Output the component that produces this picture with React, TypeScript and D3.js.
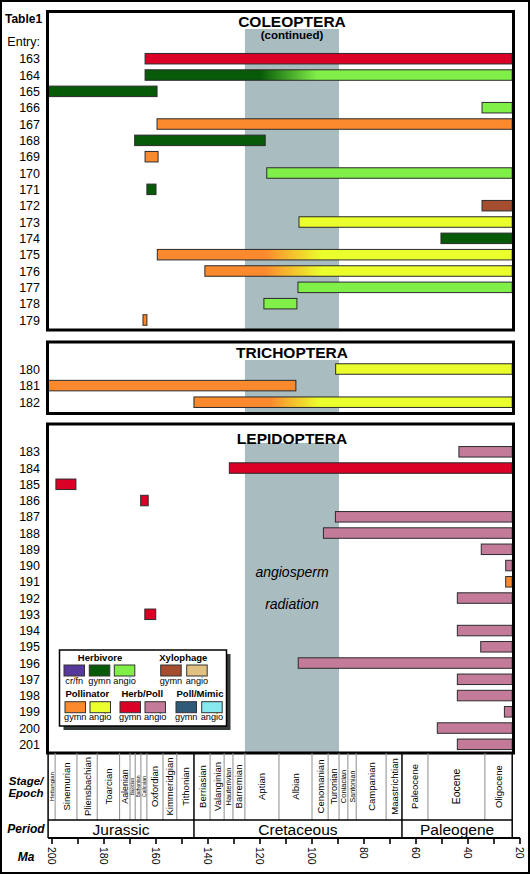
import React from 'react';
import * as d3 from 'd3';

// ---------- DATA ----------
// Coleoptera (continued)
const coleEntries = [163, 164, 165, 166, 167, 168, 169, 170, 171, 172, 173, 174, 175, 176, 177, 178, 179];
const coleStart = [164.2, 164.2, 201.5, 34.6, 159.6, 168.2, 164.2, 117.4, 163.5, 34.6, 105.0, 50.4, 159.5, 141.2, 105.4, 118.5, 165.0];
const coleEnd = [23, 23, 159.6, 23, 23, 118.0, 159.2, 23, 160.0, 23, 23, 23, 23, 23, 23, 105.8, 163.5];
const coleType = ['hpG', 'herbG>herbA', 'herbG', 'herbA', 'pollG', 'herbG', 'pollG', 'herbA', 'herbG', 'xyloG', 'pollA', 'herbG', 'pollG>pollA', 'pollG>pollA', 'herbA', 'herbA', 'pollG'];
const coleFadeFrom = [null, 120, null, null, null, null, null, null, null, null, null, null, 118, 118, null, null, null];
const coleFadeTo = [null, 98, null, null, null, null, null, null, null, null, null, null, 96, 96, null, null, null];

// Trichoptera
const trichEntries = [180, 181, 182];
const trichStart = [90.9, 201.5, 145.4];
const trichEnd = [23, 106.2, 23];
const trichType = ['pollA', 'pollG', 'pollG>pollA'];
const trichFadeFrom = [null, null, 116];
const trichFadeTo = [null, null, 97];

// Lepidoptera
const lepEntries = [183, 184, 185, 186, 187, 188, 189, 190, 191, 192, 193, 194, 195, 196, 197, 198, 199, 200, 201];
const lepStart = [43.5, 131.8, 198.5, 165.9, 91.0, 95.6, 34.9, 25.5, 25.5, 44.1, 164.3, 44.1, 35.1, 105.3, 44.1, 44.1, 26.0, 51.8, 44.1];
const lepEnd = [23, 23, 190.8, 163.0, 23, 23, 23, 23, 23, 23, 160.1, 23, 23, 23, 23, 23, 23, 23, 23];
const lepType = ['hpA', 'hpG', 'hpG', 'hpG', 'hpA', 'hpA', 'hpA', 'hpA', 'pollG', 'hpA', 'hpG', 'hpA', 'hpA', 'hpA', 'hpA', 'hpA', 'hpA', 'hpA', 'hpA'];
const lepFadeFrom = lepEntries.map(() => null);
const lepFadeTo = lepEntries.map(() => null);

// Angiosperm radiation interval (Ma)
const radiation = [125.8, 89.6];

// Geologic time scale
const stageNames = ['Hettangian', 'Sinemurian', 'Pliensbachian', 'Toarcian', 'Aalenian', 'Bajocian', 'Bathonian', 'Callovian', 'Oxfordian', 'Kimmeridgian', 'Tithonian', 'Berriasian', 'Valanginian', 'Hauterivian', 'Barremian', 'Aptian', 'Albian', 'Cenomanian', 'Turonian', 'Coniacian', 'Santonian', 'Campanian', 'Maastrichtian', 'Paleocene', 'Eocene', 'Oligocene'];
const stageBounds = [201.5, 198.8, 190.4, 182.6, 174.0, 170.0, 168.0, 165.8, 163.5, 157.3, 152.0, 145.4, 139.2, 133.8, 130.4, 125.8, 112.7, 100.0, 93.8, 89.6, 86.2, 83.0, 71.5, 65.4, 55.4, 33.5, 23.0];
const periodNames = ['Jurassic', 'Cretaceous', 'Paleogene'];
const periodBounds = [201.5, 145.4, 65.4, 23.0];
const maTicks = [200, 190, 180, 170, 160, 150, 140, 130, 120, 110, 100, 90, 80, 70, 60, 50, 40, 30, 20];
const maLabels = [200, 180, 160, 140, 120, 100, 80, 60, 40, 20];

// Legend
const legendHeadings = ['Herbivore', 'Xylophage', 'Pollinator', 'Herb/Poll', 'Poll/Mimic'];
const legendKeys = ['crfn', 'herbG', 'herbA', 'xyloG', 'xyloA', 'pollG', 'pollA', 'hpG', 'hpA', 'mimG', 'mimA'];
const legendLabels = ['cr/fn', 'gymn', 'angio', 'gymn', 'angio', 'gymn', 'angio', 'gymn', 'angio', 'gymn', 'angio'];

// ---------- STYLE / LAYOUT ----------
const COLORS: Record<string, string> = {
  crfn: '#56399a',
  herbG: '#075a07',
  herbA: '#80ef48',
  xyloG: '#a44d2f',
  xyloA: '#e2c282',
  pollG: '#fb8a2f',
  pollA: '#eaff2b',
  hpG: '#da0026',
  hpA: '#c37b99',
  mimG: '#2f5a78',
  mimA: '#88e8ef',
};
const SHADE = '#a9bcc0';
const FONT = "'Liberation Sans', Arial, Helvetica, sans-serif";
const W = 530, H = 874;
const PL = 47.5, PR = 513.5;
const x = d3.scaleLinear().domain([200, 20]).range([52, 520]);

const panels = [
  { id: 'cole', title: 'COLEOPTERA', sub: '(continued)', top: 11.5, bottom: 330, shadeTop: 29, titleY: 27, y0: 58.7, y1: 320,
    entries: coleEntries, start: coleStart, end: coleEnd, type: coleType, ff: coleFadeFrom, ft: coleFadeTo },
  { id: 'trich', title: 'TRICHOPTERA', sub: '', top: 342, bottom: 413.5, shadeTop: 360, titleY: 358.3, y0: 369, y1: 402.2,
    entries: trichEntries, start: trichStart, end: trichEnd, type: trichType, ff: trichFadeFrom, ft: trichFadeTo },
  { id: 'lep', title: 'LEPIDOPTERA', sub: '', top: 424, bottom: 753, shadeTop: 443, titleY: 443.5, y0: 451.8, y1: 744.3,
    entries: lepEntries, start: lepStart, end: lepEnd, type: lepType, ff: lepFadeFrom, ft: lepFadeTo },
];

const legendSwatchX = [64, 89.3, 114.3, 160.7, 186.7, 65, 90, 120, 145, 176, 201.7];
const legendRow = [0, 0, 0, 0, 0, 1, 1, 1, 1, 1, 1];
const legendHeadX = [100, 183.3, 87.3, 142.3, 200];
const legendHeadRow = [0, 0, 1, 1, 1];
const LEG_SW_Y = [665, 701.7];
const LEG_HEAD_Y = [660.7, 697.3];
const LEG_LAB_Y = [684.3, 720];

const BAR_H = 10.5;
const TS_TOP = 753, TS_MID = 820, TS_BOT = 838;

export default function App() {
  const shadeX0 = x(radiation[0]);
  const shadeX1 = x(radiation[1]);
  return (
    <svg width={W} height={H} style={{ position: 'absolute', left: 0, top: 0, fontFamily: FONT }}>
      <defs>
        {panels.map((p) => (
          <clipPath id={`clip-${p.id}`} key={p.id}>
            <rect x={PL} y={p.top} width={PR - PL} height={p.bottom - p.top} />
          </clipPath>
        ))}
        {panels.flatMap((p) =>
          p.entries.map((e, i) => {
            if (!p.type[i].includes('>')) return null;
            const [a, b] = p.type[i].split('>');
            return (
              <linearGradient key={`g${e}`} id={`g${e}`} gradientUnits="userSpaceOnUse" x1={x(p.ff[i] as number)} x2={x(p.ft[i] as number)} y1={0} y2={0}>
                <stop offset="0" stopColor={COLORS[a]} />
                <stop offset="1" stopColor={COLORS[b]} />
              </linearGradient>
            );
          })
        )}
      </defs>
      <rect x={1} y={1} width={W - 2} height={H - 2} fill="#fff" stroke="#000" strokeWidth={2} />

      {/* header */}
      <text x={5} y={23} fontSize={12} fontWeight="bold">Table1</text>
      <text x={40} y={45.5} fontSize={12.5} textAnchor="end">Entry:</text>

      {panels.map((p) => {
        const y = d3.scalePoint<number>().domain(p.entries).range([p.y0, p.y1]);
        const cx = (shadeX0 + shadeX1) / 2;
        return (
          <g key={p.id}>
            <rect x={PL} y={p.top} width={PR - PL} height={p.bottom - p.top} fill="#fff" />
            <g clipPath={`url(#clip-${p.id})`}>
              <rect x={shadeX0} y={p.shadeTop} width={shadeX1 - shadeX0} height={p.bottom - p.shadeTop} fill={SHADE} />
              {p.entries.map((e, i) => {
                const x0 = x(p.start[i]);
                const x1 = x(p.end[i]);
                const t = p.type[i];
                const fill = t.includes('>') ? `url(#g${e})` : COLORS[t];
                return (
                  <rect key={e} x={x0} y={(y(e) as number) - BAR_H / 2} width={x1 - x0} height={BAR_H}
                    fill={fill} stroke="#2b2b2b" strokeWidth={1} />
                );
              })}
            </g>
            <rect x={PL} y={p.top} width={PR - PL} height={p.bottom - p.top} fill="none" stroke="#000" strokeWidth={3} />
            <text x={cx} y={p.titleY} fontSize={15.5} fontWeight="bold" textAnchor="middle">{p.title}</text>
            {p.sub && <text x={cx} y={38.5} fontSize={11.5} fontWeight="bold" textAnchor="middle">{p.sub}</text>}
            {p.entries.map((e) => (
              <text key={e} x={40} y={(y(e) as number) + 4.5} fontSize={12.5} textAnchor="end">{e}</text>
            ))}
          </g>
        );
      })}

      {/* angiosperm radiation label */}
      <text x={(shadeX0 + shadeX1) / 2} y={576.5} fontSize={14} fontStyle="italic" textAnchor="middle">angiosperm</text>
      <text x={(shadeX0 + shadeX1) / 2} y={608.5} fontSize={14} fontStyle="italic" textAnchor="middle">radiation</text>

      {/* legend */}
      <g>
        <rect x={63.5} y={654} width={167} height={76} fill="#363b3c" />
        <rect x={59.5} y={650} width={167} height={76} fill="#fff" stroke="#000" strokeWidth={1.5} />
        {legendHeadings.map((h, i) => (
          <text key={h} x={legendHeadX[i]} y={LEG_HEAD_Y[legendHeadRow[i]]} fontSize={9.5} fontWeight="bold" textAnchor="middle">{h}</text>
        ))}
        {legendKeys.map((k, i) => (
          <g key={i}>
            <rect x={legendSwatchX[i]} y={LEG_SW_Y[legendRow[i]]} width={20.5} height={11} fill={COLORS[k]} stroke="#333" strokeWidth={1} />
            <text x={legendSwatchX[i] + 10.25} y={LEG_LAB_Y[legendRow[i]]} fontSize={9.2} textAnchor="middle">{legendLabels[i]}</text>
          </g>
        ))}
      </g>

      {/* geologic time scale */}
      <g>
        {stageNames.map((s, i) => {
          const a = x(stageBounds[i]);
          const b = x(stageBounds[i + 1]);
          const w = b - a;
          const fs = w > 30 && i >= 24 ? 10.5 : Math.min(9.5, w * 0.85);
          const cxs = (a + b) / 2;
          const cy = (TS_TOP + TS_MID) / 2;
          return (
            <text key={s} transform={`translate(${cxs},${cy}) rotate(-90)`} fontSize={fs} textAnchor="middle" dominantBaseline="central">{s}</text>
          );
        })}
        {stageBounds.slice(1, -1).filter((b) => !periodBounds.includes(b)).map((b) => (
          <line key={b} x1={x(b)} x2={x(b)} y1={TS_TOP} y2={TS_MID} stroke="#8d8d8d" strokeWidth={1} />
        ))}
        {periodBounds.map((b) => (
          <line key={b} x1={x(b)} x2={x(b)} y1={TS_TOP} y2={TS_BOT} stroke="#000" strokeWidth={1.5} />
        ))}
        <line x1={x(periodBounds[0])} x2={x(periodBounds[3])} y1={TS_MID} y2={TS_MID} stroke="#000" strokeWidth={1.3} />
        <line x1={x(periodBounds[0])} x2={x(20)} y1={TS_BOT} y2={TS_BOT} stroke="#000" strokeWidth={1.8} />
        {periodNames.map((p, i) => (
          <text key={p} x={(x(periodBounds[i]) + x(periodBounds[i + 1])) / 2} y={834.5} fontSize={15.5} textAnchor="middle">{p}</text>
        ))}
        {maTicks.map((t) => (
          <line key={t} x1={x(t)} x2={x(t)} y1={TS_BOT} y2={TS_BOT + 6} stroke="#000" strokeWidth={1.6} />
        ))}
        {maLabels.map((t) => (
          <text key={t} transform={`translate(${x(t)},${847}) rotate(90)`} fontSize={10.5} textAnchor="start" dominantBaseline="central">{t}</text>
        ))}
        <text x={26} y={785} fontSize={11.5} fontWeight="bold" fontStyle="italic" textAnchor="middle">Stage/</text>
        <text x={26} y={797} fontSize={11.5} fontWeight="bold" fontStyle="italic" textAnchor="middle">Epoch</text>
        <text x={26} y={833} fontSize={12} fontWeight="bold" fontStyle="italic" textAnchor="middle">Period</text>
        <text x={26} y={861} fontSize={12} fontWeight="bold" fontStyle="italic" textAnchor="middle">Ma</text>
      </g>
    </svg>
  );
}
